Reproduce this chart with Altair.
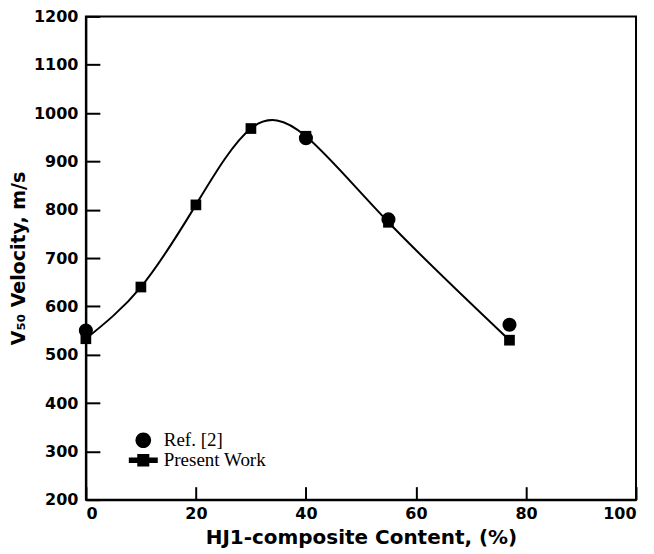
import altair as alt
import pandas as pd

# Data
present_x = [0, 10, 20, 30, 40, 55, 77]
present_y = [533, 640, 810, 968, 952, 774, 530]
ref_x = [0, 40, 55, 77]
ref_y = [550, 948, 780, 562]

x_ticks = [0, 20, 40, 60, 80, 100]
y_ticks = [200, 300, 400, 500, 600, 700, 800, 900, 1000, 1100, 1200]
series_names = ["Ref. [2]", "Present Work"]

present = pd.DataFrame({"x": present_x, "y": present_y, "series": "Present Work"})
ref = pd.DataFrame({"x": ref_x, "y": ref_y, "series": "Ref. [2]"})

W, H = 551, 484
xs = alt.Scale(domain=[0, 100], nice=False, zero=False)
ys = alt.Scale(domain=[200, 1200], nice=False, zero=False)

x_main = alt.X("x:Q", scale=xs, axis=alt.Axis(
    values=x_ticks, tickSize=0, labelPadding=6, title="HJ1-composite Content, (%)",
    titleFontSize=20, titlePadding=6, format="d"))
y_main = alt.Y("y:Q", scale=ys, axis=alt.Axis(
    values=y_ticks, tickSize=0, labelPadding=8, title="V₅₀ Velocity, m/s",
    titleFontSize=19, titlePadding=5, format="d"))

x_in = alt.X("x:Q", scale=xs, axis=alt.Axis(
    orient="top", offset=-H, values=x_ticks, labels=False, domain=False,
    tickSize=13, title=None))
y_in = alt.Y("y:Q", scale=ys, axis=alt.Axis(
    orient="right", offset=-W, values=y_ticks, labels=False, domain=False,
    tickSize=14, title=None))

line = alt.Chart(present).mark_line(
    interpolate="natural", color="black", strokeWidth=2
).encode(x=x_main, y=y_main)

squares = alt.Chart(present).mark_point(
    shape="square", filled=True, color="black", size=115, opacity=1
).encode(x=x_in, y=y_in)

circles = alt.Chart(ref).mark_point(
    shape="circle", filled=True, color="black", size=200, opacity=1
).encode(x=alt.X("x:Q", scale=xs, axis=None), y=alt.Y("y:Q", scale=ys, axis=None))

# legend symbols (unit = 9 px at symbolSize 324)
present_path = ("M-1.61,-0.31L1.61,-0.31L1.61,0.31L-1.61,0.31Z "
                "M-0.67,-0.7L0.67,-0.7L0.67,0.7L-0.67,0.7Z")
circle_path = "M0.87,0A0.87,0.87,0,1,1,-0.87,0A0.87,0.87,0,1,1,0.87,0Z"

legend_layer = alt.Chart(pd.concat([ref, present])).transform_filter(
    "false"
).mark_point(filled=True, color="black", opacity=1).encode(
    x=alt.X("x:Q", scale=xs, axis=None),
    y=alt.Y("y:Q", scale=ys, axis=None),
    shape=alt.Shape("series:N", scale=alt.Scale(domain=series_names,
                                                 range=[circle_path, present_path]),
                    legend=alt.Legend(
                        title=None, orient="none", legendX=48, legendY=415,
                        symbolSize=324, labelFont="Liberation Serif",
                        labelFontSize=19, labelColor="black", labelOffset=11,
                        rowPadding=0, padding=0, symbolStrokeWidth=0,
                        symbolFillColor="black")),
)

chart = alt.layer(line, squares, circles, legend_layer).resolve_scale(
    x="independent", y="independent"
).resolve_axis(
    x="independent", y="independent"
).properties(
    width=W, height=H,
    autosize=alt.AutoSizeParams(type="none"),
    padding={"left": 78, "top": 8, "right": 10, "bottom": 54},
    background="white",
).configure_view(
    stroke="black", strokeWidth=2
).configure_axis(
    labelFont="DejaVu Sans", labelFontWeight="bold", labelFontSize=16,
    labelColor="black", titleFont="DejaVu Sans", titleFontWeight="bold",
    titleColor="black", domainColor="black", domainWidth=2,
    tickColor="black", tickWidth=2, grid=False,
)

chart.save("out.html", embed_options={"renderer": "svg", "actions": False})
